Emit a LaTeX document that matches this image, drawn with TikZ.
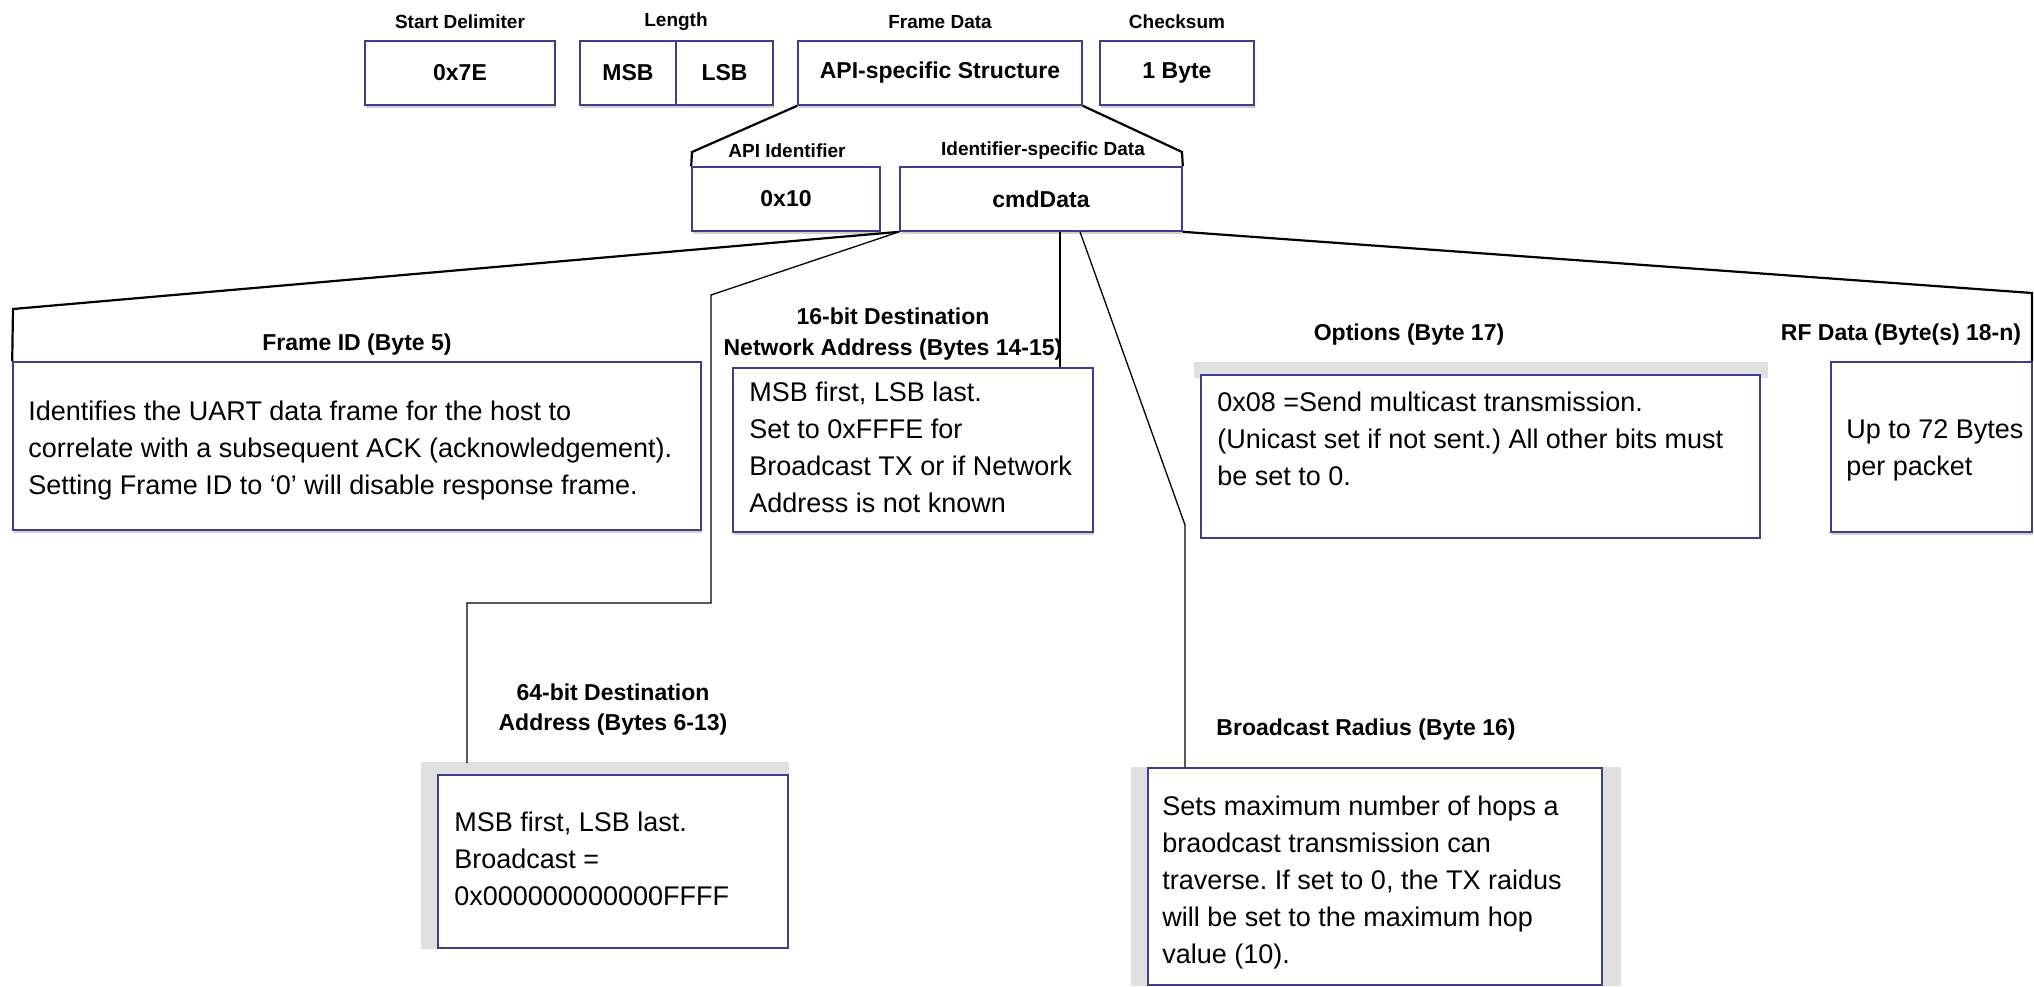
\documentclass[tikz,border=0pt]{standalone}
\usepackage{fontspec}
\setmainfont{Liberation Sans}
\frenchspacing
\usetikzlibrary{positioning,shadows,backgrounds}
\definecolor{boxblue}{RGB}{62,62,140}
\definecolor{bandgray}{RGB}{224,224,224}

\begin{document}
\begin{tikzpicture}
  [x=1pt,y=-1pt,
   field/.style={draw=boxblue,line width=1.6pt,fill=white,inner sep=0pt,minimum height=64pt,
     general shadow={fill=black!18,shadow xshift=1pt,shadow yshift=-3pt},
     font=\fontsize{23}{27}\selectfont\bfseries},
   fieldname/.style={inner sep=0pt,font=\fontsize{19}{22}\selectfont\bfseries},
   part/.style={draw=boxblue,line width=1.6pt,fill=white,inner sep=0pt},
   lowshadow/.style={general shadow={fill=black!18,shadow xshift=1pt,shadow yshift=-3pt}},
   partname/.style={inner sep=0pt,align=center,font=\fontsize{23}{31}\selectfont\bfseries},
   parttext/.style={inner sep=0pt,align=left,font=\fontsize{27}{37}\selectfont},
   link/.style={line width=2.2pt},
   thinlink/.style={line width=1.3pt}]

  \useasboundingbox (0,0) rectangle (2034,987);

  % frame fields
  \foreach \n/\x/\w/\t in {start/460/190/0x7E,msb/628/96/MSB,lsb/724.5/97/LSB,
      fdata/940/284/API-specific Structure,csum/1177/154/1 Byte}
    \node[field,minimum width=\w pt] (\n) at (\x,73) {\t};
  \foreach \n/\x/\t in {start/460/Start Delimiter,msb/676/Length,
      fdata/940/Frame Data,csum/1177/Checksum}
    \node[fieldname] (\n name) at (\x,22) {\t};

  \node[field,minimum width=188pt] (apiid) at (786,199) {0x10};
  \node[field,minimum width=282pt] (cmddata) at (1041,199) {cmdData};
  \node[fieldname] (apiid name) at (787,151) {API Identifier};
  \node[fieldname] (cmddata name) at (1043,151) {Identifier-specific Data};

  \coordinate (k1) at (692,152);
  \coordinate (k2) at (1182,152);
  \draw[link] (fdata.south west) -- (k1) -- (apiid.north west);
  \draw[link] (fdata.south east) -- (k2) -- (cmddata.north east);

  % parts of cmdData
  \node[part,lowshadow,minimum width=688pt,minimum height=168pt] (frameid) at (357,446) {};
  \node[part,lowshadow,minimum width=360pt,minimum height=164pt] (dest16) at (913,450) {};
  \node[part,minimum width=350pt,minimum height=173pt] (dest64) at (613,861.5) {};
  \node[part,minimum width=454pt,minimum height=217pt] (radius) at (1375,876.5) {};
  \node[part,minimum width=559pt,minimum height=163pt] (options) at (1480.5,456.5) {};
  \node[part,lowshadow,minimum width=201pt,minimum height=170pt] (rfdata) at (1931.5,447) {};

  \begin{scope}[on background layer]
    \fill[bandgray] ([shift={(-16,-12)}]dest64.north west) rectangle (dest64.south east);
    \fill[bandgray] ([xshift=-16pt]radius.north west) rectangle ([xshift=18pt]radius.south east);
    \fill[bandgray] ([shift={(-6,-12)}]options.north west) rectangle ([shift={(7,4)}]options.north east);
  \end{scope}

  \node[partname] (frameid name) at (357,345) {Frame ID (Byte 5)};
  \node[partname] (dest16 name) at (893,334) {16-bit Destination\\Network Address (Bytes 14-15)};
  \node[partname,font=\fontsize{23}{30}\selectfont\bfseries] (dest64 name) at (613,710)
    {64-bit Destination\\Address (Bytes 6-13)};
  \node[partname] (radius name) at (1366,730) {Broadcast Radius (Byte 16)};
  \node[partname] (options name) at (1409,335) {Options (Byte 17)};
  \node[partname] (rfdata name) at (1901,335) {RF Data (Byte(s) 18-n)};

  \node[parttext,below right=40pt and 16pt of frameid.north west] (frameid text)
    {Identifies the UART data frame for the host to\\
     correlate with a subsequent ACK (acknowledgement).\\
     Setting Frame ID to `0' will disable response frame.};
  \node[parttext,below right=15pt and 17pt of dest16.north west] (dest16 text)
    {MSB first, LSB last.\\Set to 0xFFFE for\\Broadcast TX or if Network\\Address is not known};
  \node[parttext,below right=38pt and 17pt of dest64.north west] (dest64 text)
    {MSB first, LSB last.\\Broadcast =\\0x000000000000FFFF};
  \node[parttext,below right=29pt and 15pt of radius.north west] (radius text)
    {Sets maximum number of hops a\\braodcast transmission can\\traverse. If set to 0, the TX raidus\\
     will be set to the maximum hop\\value (10).};
  \node[parttext,below right=18pt and 17pt of options.north west] (options text)
    {0x08 =Send multicast transmission.\\(Unicast set if not sent.) All other bits must\\be set to 0.};
  \node[parttext,below right=58pt and 16pt of rfdata.north west] (rfdata text)
    {Up to 72 Bytes\\per packet};

  % connectors
  \coordinate (k3) at (13,309);
  \coordinate (k4) at (711,295);
  \coordinate (k5) at (467,603);
  \coordinate (in64) at (467,763);
  \coordinate (k6) at (1185,525);
  \coordinate (k7) at (2032,293);

  \draw[link] (cmddata.south west) -- (k3) -- (frameid.north west);
  \draw[thinlink] (cmddata.south west) -- (k4) -- (k4 |- k5) -- (k5) -- (in64);
  \draw[thinlink] ([xshift=19pt]cmddata.south) -- ([xshift=19pt]cmddata.south |- dest16.north);
  \draw[thinlink] ([xshift=39pt]cmddata.south) -- (k6) -- (k6 |- radius.north);
  \draw[link] (cmddata.south east) -- (k7) -- (k7 |- rfdata.north);

\end{tikzpicture}
\end{document}
